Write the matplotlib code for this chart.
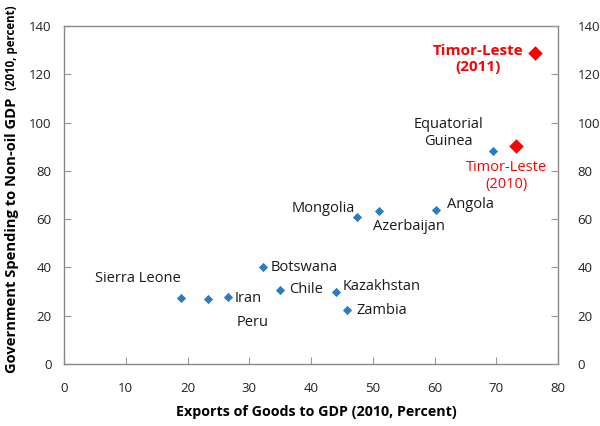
import matplotlib
matplotlib.use("Agg")
import matplotlib.pyplot as plt

countries = ["Sierra Leone", "Peru", "Iran", "Botswana", "Chile", "Kazakhstan",
             "Zambia", "Mongolia", "Azerbaijan", "Angola", "Equatorial Guinea"]
exports = [19.0, 23.3, 26.5, 32.3, 35.0, 44.0, 45.9, 47.4, 51.0, 60.2, 69.5]
spending = [27.2, 26.9, 27.8, 40.0, 30.5, 29.8, 22.5, 61.0, 63.4, 63.8, 88.2]

timor_labels = ["Timor-Leste\n(2010)", "Timor-Leste\n(2011)"]
timor_exports = [73.2, 76.2]
timor_spending = [90.4, 128.7]

# label anchor positions (data coords) and alignment
label_text = ["Sierra Leone", "Peru", "Iran", "Botswana", "Chile", "Kazakhstan",
              "Zambia", "Mongolia", "Azerbaijan", "Angola", "Equatorial\nGuinea"]
label_x = [5.0, 27.9, 27.7, 33.5, 36.4, 45.2, 47.4, 47.1, 50.0, 62.0, 62.3]
label_y = [35.6, 17.0, 27.3, 39.8, 30.7, 31.9, 22.0, 64.6, 56.8, 65.9, 95.7]
label_ha = ["left", "left", "left", "left", "left", "left", "left", "right",
            "left", "left", "center"]

xticks = [0, 10, 20, 30, 40, 50, 60, 70, 80]
yticks = [0, 20, 40, 60, 80, 100, 120, 140]

plt.rcParams['font.family'] = ['Open Sans', 'DejaVu Sans']

fig = plt.figure(figsize=(6.0, 4.26), dpi=100)
ax = fig.add_axes([64/600, 1-364/426, (558-64)/600, (364-26)/426])

blue = "#2A7BC0"
red = "#FF0000"
ax.scatter(exports, spending, marker="D", s=22, color=blue, zorder=3, linewidths=0)
ax.scatter(timor_exports, timor_spending, marker="D", s=55, color=red, zorder=3, linewidths=0)

for t, x, y, ha in zip(label_text, label_x, label_y, label_ha):
    ax.text(x, y, t, ha=ha, va="center", fontsize=10.5, color="#1a1a1a",
            multialignment="center", linespacing=1.2)

ax.text(71.7, 77.9, timor_labels[0], ha="center", va="center", fontsize=10.5,
        color=red, multialignment="center", linespacing=1.2)
ax.text(67.0, 126.3, timor_labels[1], ha="center", va="center", fontsize=11,
        color=red, fontweight="bold", multialignment="center", linespacing=1.2)

ax.set_xlim(0, 80)
ax.set_ylim(0, 140)
ax.set_xticks(xticks)
ax.set_yticks(yticks)
ax.tick_params(axis="y", direction="in", length=5, color="#999999", labelsize=9.5,
               labelcolor="#222222", pad=9)
ax.tick_params(axis="x", direction="in", length=5, color="#999999", labelsize=9.5,
               labelcolor="#222222", pad=13)
for s in ax.spines.values():
    s.set_color("#888888")
    s.set_linewidth(1.0)

ax2 = ax.twinx()
ax2.set_ylim(0, 140)
ax2.set_yticks(yticks)
ax2.tick_params(direction="in", length=5, color="#999999", labelsize=9.5,
                labelcolor="#222222", pad=14)
for s in ax2.spines.values():
    s.set_visible(False)

fig.text(316/600, 1-412/426, "Exports of Goods to GDP (2010, Percent)",
         ha="center", va="center", fontsize=10.3, fontweight="bold")
fig.text(12/600, 1-373/426, "Government Spending to Non-oil GDP", rotation=90,
         ha="center", va="bottom", fontsize=10.6, fontweight="bold")
fig.text(12/600, 1-5/426, "(2010, percent)", rotation=90,
         ha="center", va="top", fontsize=8.3, fontweight="bold")

fig.savefig("out.png", dpi=100)
